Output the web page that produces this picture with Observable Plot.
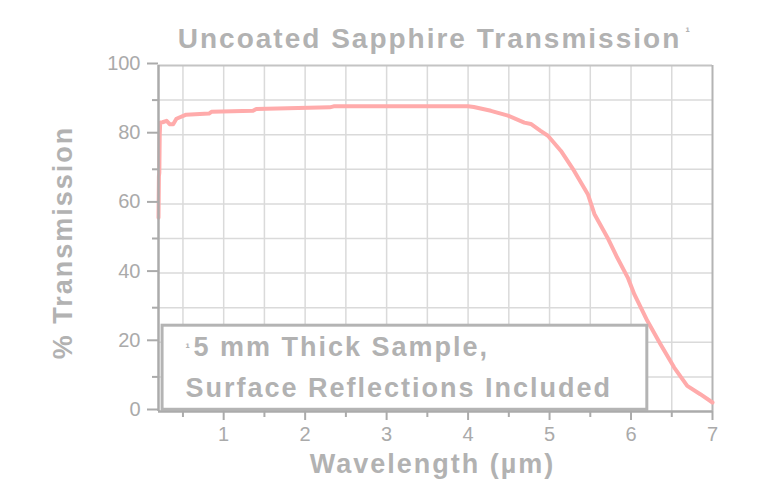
<!DOCTYPE html>
<html>
<head>
<meta charset="utf-8">
<script src="https://cdn.jsdelivr.net/npm/d3@7"></script>
<script src="https://cdn.jsdelivr.net/npm/@observablehq/plot@0.6"></script>
<style>
  html, body { margin: 0; padding: 0; background: #ffffff; }
  #chart svg { display: block; }
</style>
</head>
<body>
<div id="chart"></div>
<script>
// ---- Data ----
const wavelength = [0.20, 0.205, 0.21, 0.215, 0.22, 0.225, 0.25, 0.30, 0.34, 0.38, 0.42, 0.54, 0.82, 0.85, 1.36, 1.40, 2.30, 2.35, 3.60, 4.00, 4.07, 4.28, 4.49, 4.69, 4.77, 4.89, 4.98, 5.14, 5.30, 5.47, 5.55, 5.71, 5.83, 5.96, 6.04, 6.20, 6.36, 6.53, 6.69, 6.85, 7.00];
const transmission = [56, 68, 69, 80, 83, 83.5, 83.6, 84, 83, 83, 84.6, 85.8, 86.1, 86.6, 86.9, 87.4, 87.9, 88.2, 88.2, 88.2, 88.0, 86.9, 85.5, 83.5, 83.1, 81.1, 79.7, 75.3, 69.6, 62.8, 57.1, 50.3, 44.5, 38.7, 33.9, 26.2, 19.5, 12.7, 7.4, 5.0, 2.6];

const xTicks = [1, 2, 3, 4, 5, 6, 7];
const xMinorTicks = [0.5, 1.5, 2.5, 3.5, 4.5, 5.5, 6.5];
const xGrid = [0.5, 1, 1.5, 2, 2.5, 3, 3.5, 4, 4.5, 5, 5.5, 6, 6.5];
const yTicks = [0, 20, 40, 60, 80, 100];
const yMinorTicks = [10, 30, 50, 70, 90];
const yGrid = [10, 20, 30, 40, 50, 60, 70, 80, 90];

const titleText = "Uncoated Sapphire Transmission";
const titleMark = "\u00B9";
const xLabel = "Wavelength (\u00B5m)";
const yLabel = "% Transmission";
const noteLines = ["5 mm Thick Sample,", "Surface Reflections Included"];

const series = wavelength.map((w, i) => ({ w, t: transmission[i] }));

// ---- Styles ----
const FONT = "'Liberation Sans', Arial, sans-serif";
const TEXT_GREY = "#b2b2b2";
const AXIS_GREY = "#ababab";
const GRID_GREY = "#dadada";
const LINE_PINK = "#ffabab";

const chart = Plot.plot({
  width: 769,
  height: 479,
  marginLeft: 158,
  marginRight: 57,
  marginTop: 65,
  marginBottom: 68,
  style: { fontFamily: FONT, background: "#ffffff" },
  x: { domain: [0.2, 7] },
  y: { domain: [0, 100] },
  marks: [
    // grid
    Plot.ruleX(xGrid, { stroke: GRID_GREY, strokeWidth: 1.5 }),
    Plot.ruleY(yGrid, { stroke: GRID_GREY, strokeWidth: 1.5 }),
    // top and right borders
    Plot.ruleY([100], { stroke: "#c4c4c4", strokeWidth: 2 }),
    Plot.ruleX([7], { stroke: "#b4b4b4", strokeWidth: 2 }),
    // transmission curve
    Plot.line(series, { x: "w", y: "t", stroke: LINE_PINK, strokeWidth: 4, strokeLinejoin: "round", curve: "linear" }),
    // note box
    Plot.rect([noteLines], { x1: 0.25, x2: 6.2, y1: 0.5, y2: 24.8, fill: "#ffffff", stroke: "#b4b4b4", strokeWidth: 3 }),
    Plot.text([titleMark], { x: 0.53, y: 15.9, text: d => d, textAnchor: "start", lineAnchor: "bottom", dy: -4, fontSize: 13, fontWeight: "bold", fill: TEXT_GREY }),
    Plot.text([noteLines[0]], { x: 0.53, y: 15.9, text: d => d, textAnchor: "start", lineAnchor: "bottom", dx: 8, fontSize: 27, fontWeight: "bold", fill: TEXT_GREY }),
    Plot.text([noteLines[1]], { x: 0.53, y: 4.05, text: d => d, textAnchor: "start", lineAnchor: "bottom", fontSize: 27, fontWeight: "bold", fill: TEXT_GREY }),
    // axes lines
    Plot.ruleX([0.2], { stroke: AXIS_GREY, strokeWidth: 2.5 }),
    Plot.ruleY([0], { stroke: AXIS_GREY, strokeWidth: 2.5 }),
    // ticks
    Plot.axisY(yMinorTicks, { tickSize: 6, text: null, stroke: AXIS_GREY, strokeWidth: 2, label: null }),
    Plot.axisY(yTicks, { tickSize: 11, tickPadding: 7, stroke: AXIS_GREY, strokeWidth: 2, fill: "#aaaaaa", fontSize: 20, dy: -2, label: null }),
    Plot.axisX(xMinorTicks, { tickSize: 6, text: null, stroke: AXIS_GREY, strokeWidth: 2, label: null }),
    Plot.axisX(xTicks, { tickSize: 9, tickPadding: 6, stroke: AXIS_GREY, strokeWidth: 2, fill: "#aaaaaa", fontSize: 20, label: null }),
    // title and axis labels
    Plot.text([titleText], { frameAnchor: "top", text: d => d, textAnchor: "middle", lineAnchor: "bottom", dy: -18, dx: -6, fontSize: 28, fontWeight: "bold", fill: TEXT_GREY }),
    Plot.text([titleMark], { frameAnchor: "top-right", text: d => d, textAnchor: "start", lineAnchor: "bottom", dy: -30, dx: -27, fontSize: 13, fontWeight: "bold", fill: TEXT_GREY }),
    Plot.text([xLabel], { frameAnchor: "bottom", text: d => d, textAnchor: "middle", lineAnchor: "bottom", dy: 61, dx: -3, fontSize: 27, fontWeight: "bold", fill: TEXT_GREY }),
    Plot.text([yLabel], { frameAnchor: "left", text: d => d, textAnchor: "middle", rotate: -90, lineAnchor: "middle", dx: -95, dy: 4, fontSize: 27, fontWeight: "bold", fill: TEXT_GREY })
  ]
});

// letter spacing for the bold labels, as in the reference
d3.select(chart).selectAll('g[font-weight="bold"] text').attr("letter-spacing", "2px");

document.getElementById("chart").appendChild(chart);
</script>
</body>
</html>
